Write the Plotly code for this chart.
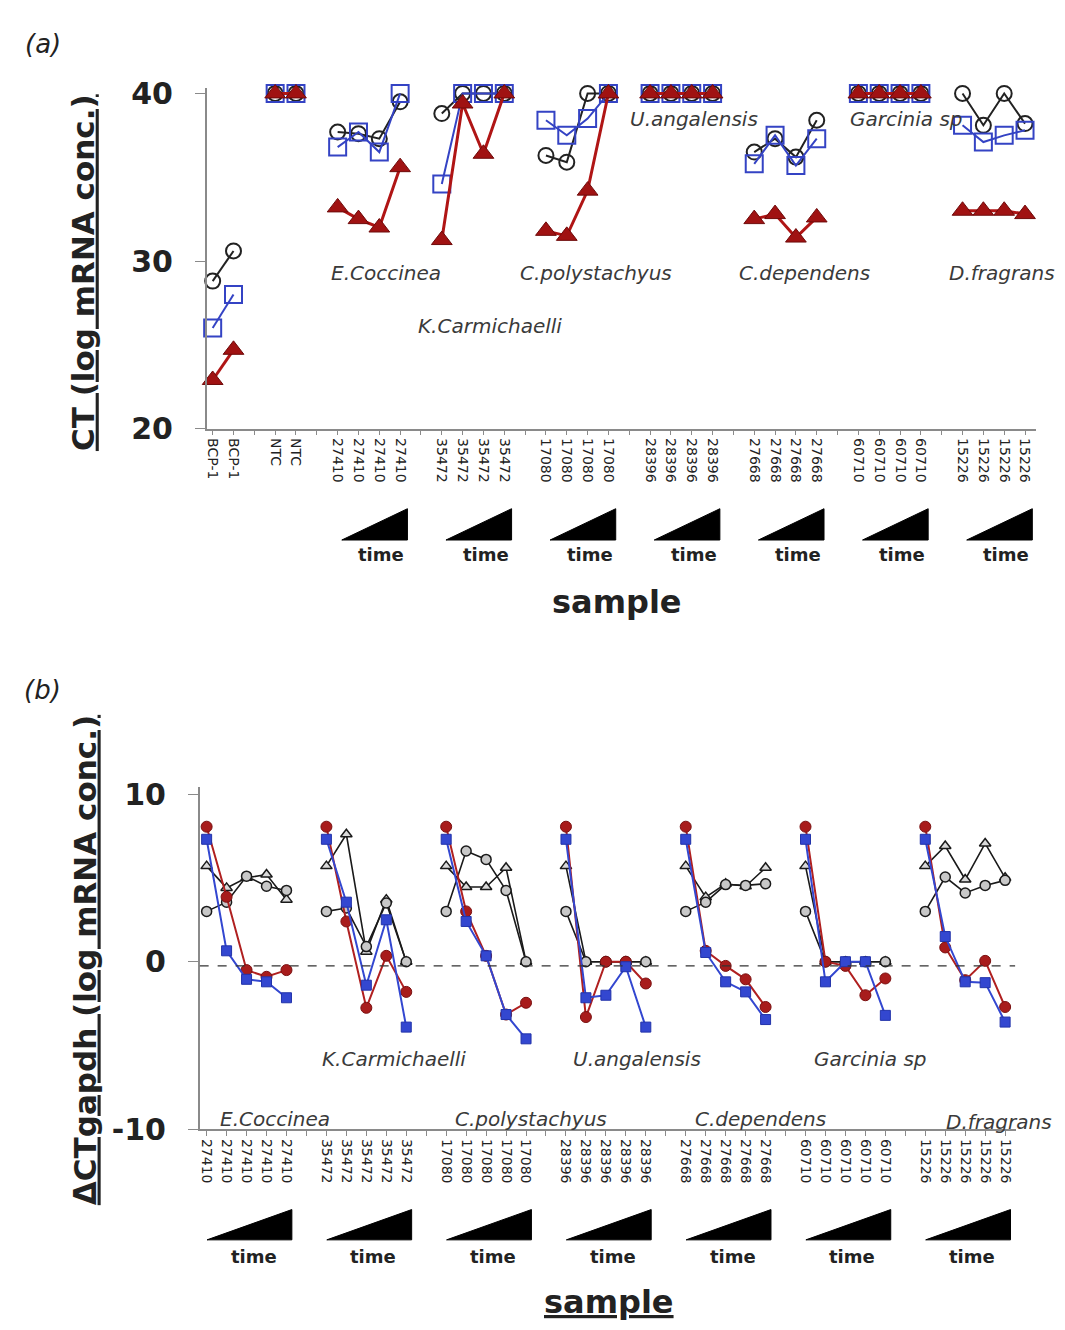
import plotly.graph_objects as go

# ---------------- data: panel (a) ----------------
top_groups = ["BCP-1", "NTC", "27410", "35472", "17080", "28396", "27668", "60710", "15226"]
top_counts = [2, 2, 4, 4, 4, 4, 4, 4, 4]

top_circles = [
    [28.8, 30.6],
    [40, 40],
    [37.7, 37.6, 37.3, 39.5],
    [38.8, 40, 40, 40],
    [36.3, 35.9, 40, 40],
    [40, 40, 40, 40],
    [36.5, 37.3, 36.2, 38.4],
    [40, 40, 40, 40],
    [40, 38.1, 40, 38.2],
]
top_squares = [
    [26.0, 28.0],
    [40, 40],
    [36.8, 37.7, 36.5, 40.0],
    [34.6, 40, 40, 40],
    [38.4, 37.5, 38.5, 40],
    [40, 40, 40, 40],
    [35.8, 37.5, 35.7, 37.3],
    [40, 40, 40, 40],
    [38.1, 37.1, 37.5, 37.8],
]
top_triangles = [
    [22.9, 24.7],
    [40, 40],
    [33.2, 32.5, 32.0, 35.6],
    [31.25, 39.4, 36.4, 40],
    [31.8, 31.5, 34.2, 40],
    [40, 40, 40, 40],
    [32.5, 32.8, 31.4, 32.6],
    [40, 40, 40, 40],
    [33.0, 33.0, 33.0, 32.8],
]
top_yticks = [20, 30, 40]
top_yticklabels = ["20", "30", "40"]

# ---------------- data: panel (b) ----------------
bot_groups = ["27410", "35472", "17080", "28396", "27668", "60710", "15226"]
bot_red = [
    [8.05, 3.87, -0.5, -0.9, -0.5],
    [8.05, 2.4, -2.75, 0.35, -1.8],
    [8.05, 3.0, 0.35, -3.15, -2.45],
    [8.05, -3.3, 0, 0, -1.3],
    [8.05, 0.65, -0.25, -1.05, -2.7],
    [8.05, 0, -0.25, -2.0, -1.0],
    [8.05, 0.85, -1.1, 0.05, -2.7],
]
bot_blue = [
    [7.3, 0.65, -1.05, -1.2, -2.15],
    [7.3, 3.55, -1.4, 2.5, -3.9],
    [7.3, 2.4, 0.35, -3.15, -4.6],
    [7.3, -2.15, -2.0, -0.3, -3.9],
    [7.3, 0.55, -1.2, -1.8, -3.45],
    [7.3, -1.2, 0, 0, -3.2],
    [7.3, 1.5, -1.2, -1.25, -3.6],
]
bot_tri = [
    [5.7, 4.4, 5.0, 5.2, 3.7],
    [5.7, 7.6, 0.6, 3.7, 0.0],
    [5.7, 4.45, 4.45, 5.6, 0],
    [5.7, 0, 0, 0, 0],
    [5.7, 3.85, 4.65, 4.5, 5.6],
    [5.7, 0, 0, 0, 0],
    [5.7, 6.9, 4.9, 7.05, 5.0],
]
bot_circ = [
    [3.0, 3.55, 5.1, 4.5, 4.25],
    [3.0, 3.2, 0.9, 3.5, 0.0],
    [3.0, 6.6, 6.1, 4.25, 0],
    [3.0, 0, 0, 0, 0],
    [3.0, 3.55, 4.6, 4.55, 4.65],
    [3.0, 0, 0, 0, 0],
    [3.0, 5.05, 4.1, 4.55, 4.85],
]
bot_yticks = [-10, 0, 10]
bot_yticklabels = ["-10", "0", "10"]

top_species = ["U.angalensis", "Garcinia sp", "E.Coccinea", "C.polystachyus",
               "C.dependens", "D.fragrans", "K.Carmichaelli"]
bot_species = ["K.Carmichaelli", "U.angalensis", "Garcinia sp", "E.Coccinea",
               "C.polystachyus", "C.dependens", "D.fragrans"]

# ---------------- build slot layout ----------------
W, H = 1065, 1330
FONT = "DejaVu Sans"


def build(groups, counts, series_list, gap=1):
    xs, labels, starts = [], [], []
    ys = [[] for _ in series_list]
    slot = 0
    for gi, (g, n) in enumerate(zip(groups, counts)):
        starts.append(slot)
        for i in range(n):
            xs.append(slot)
            labels.append(g)
            for si, s in enumerate(series_list):
                ys[si].append(s[gi][i])
            slot += 1
        if gi < len(groups) - 1:
            for _ in range(gap):
                xs.append(slot)
                labels.append("")
                for si in range(len(series_list)):
                    ys[si].append(None)
                slot += 1
    return xs, labels, ys, starts


tx, tlabels, (tc, tsq, ttr), tstarts = build(
    top_groups, top_counts, [top_circles, top_squares, top_triangles])
bx, blabels, (bred, bblue, btri, bcirc), bstarts = build(
    bot_groups, [5] * len(bot_groups), [bot_red, bot_blue, bot_tri, bot_circ])

fig = go.Figure()

# panel (a)
fig.add_trace(go.Scatter(x=tx, y=tc, mode="lines+markers", xaxis="x", yaxis="y",
                         line=dict(color="#222222", width=2),
                         marker=dict(symbol="circle-open", size=15, color="#222222",
                                     line=dict(width=2)), cliponaxis=False))
fig.add_trace(go.Scatter(x=tx, y=tsq, mode="lines+markers", xaxis="x", yaxis="y",
                         line=dict(color="#3443c4", width=2),
                         marker=dict(symbol="square-open", size=17, color="#3443c4",
                                     line=dict(width=2)), cliponaxis=False))
fig.add_trace(go.Scatter(x=tx, y=ttr, mode="lines+markers", xaxis="x", yaxis="y",
                         line=dict(color="#b01515", width=3),
                         marker=dict(symbol="triangle-up", size=18, color="#a01212",
                                     line=dict(color="#6e0a0a", width=1)), cliponaxis=False))

# panel (b)
fig.add_trace(go.Scatter(x=bx, y=btri, mode="lines+markers", xaxis="x2", yaxis="y2",
                         line=dict(color="#1a1a1a", width=1.6),
                         marker=dict(symbol="triangle-up", size=10, color="#d9d9d9",
                                     line=dict(color="#1a1a1a", width=1.5)), cliponaxis=False))
fig.add_trace(go.Scatter(x=bx, y=bcirc, mode="lines+markers", xaxis="x2", yaxis="y2",
                         line=dict(color="#1a1a1a", width=1.6),
                         marker=dict(symbol="circle", size=10, color="#c8c8c8",
                                     line=dict(color="#1a1a1a", width=1.5)), cliponaxis=False))
fig.add_trace(go.Scatter(x=bx, y=bred, mode="lines+markers", xaxis="x2", yaxis="y2",
                         line=dict(color="#b02020", width=2),
                         marker=dict(symbol="circle", size=11, color="#a81c1c",
                                     line=dict(color="#7a1010", width=1)), cliponaxis=False))
fig.add_trace(go.Scatter(x=bx, y=bblue, mode="lines+markers", xaxis="x2", yaxis="y2",
                         line=dict(color="#3347d0", width=2),
                         marker=dict(symbol="square", size=10, color="#3347d0",
                                     line=dict(color="#2233aa", width=1)), cliponaxis=False))


def py(p):
    return 1 - p / H


def px(p):
    return p / W


axis_common = dict(showgrid=False, zeroline=False, showline=True, linecolor="#8a8a8a",
                   linewidth=1.5, ticks="outside", tickcolor="#8a8a8a", mirror=False)

fig.update_layout(
    width=W, height=H, margin=dict(l=0, r=0, t=0, b=0),
    paper_bgcolor="white", plot_bgcolor="white", showlegend=False,
    xaxis=dict(domain=[px(197), px(1028)], range=[-0.29, 39.53], anchor="y",
               tickmode="array", tickvals=tx, ticktext=tlabels, tickangle=90,
               ticklen=5, tickfont=dict(family=FONT, size=14, color="#222222"),
               **axis_common),
    yaxis=dict(domain=[py(418), py(70)], range=[20, 40.3], anchor="x",
               tickmode="array", tickvals=top_yticks, ticktext=top_yticklabels,
               ticklen=10, ticklabelstandoff=16,
               tickfont=dict(family=FONT, size=30, color="#222222", weight="bold"),
               **axis_common),
    xaxis2=dict(domain=[px(190), px(1008)], range=[-0.35, 40.55], anchor="y2",
                tickmode="array", tickvals=bx, ticktext=blabels, tickangle=90,
                ticklen=5, tickfont=dict(family=FONT, size=14, color="#222222"),
                **axis_common),
    yaxis2=dict(domain=[py(1135), py(785)], range=[-10, 10.4], anchor="x2",
                tickmode="array", tickvals=bot_yticks, ticktext=bot_yticklabels,
                ticklen=10, ticklabelstandoff=16,
                tickfont=dict(family=FONT, size=30, color="#222222", weight="bold"),
                **axis_common),
)

shapes = []
annotations = []


def ann(x, y, text, size, xref="paper", yref="paper", angle=0, color="#222222"):
    return dict(x=x, y=y, xref=xref, yref=yref, text=text, showarrow=False,
                xanchor="center", yanchor="middle", textangle=angle,
                font=dict(family=FONT, size=size, color=color))


# dashed zero line in panel (b)
shapes.append(dict(type="line", xref="x2", yref="y2", x0=-0.35, x1=40.5, y0=-0.25, y1=-0.25,
                   line=dict(color="#333333", width=1.2, dash="dash")))

# time wedges
for s in tstarts[2:]:
    x0, x1 = s + 0.2, s + 3.35
    shapes.append(dict(type="path", xref="x", yref="paper",
                       path=f"M {x0},{py(532)} L {x1},{py(532)} L {x1},{py(500)} Z",
                       fillcolor="black", line=dict(color="black", width=1)))
    annotations.append(ann(s + 2.1, py(547), "<b>time</b>", 18, xref="x"))
for s in bstarts:
    x0, x1 = s + 0.02, s + 4.27
    shapes.append(dict(type="path", xref="x2", yref="paper",
                       path=f"M {x0},{py(1248)} L {x1},{py(1248)} L {x1},{py(1217)} Z",
                       fillcolor="black", line=dict(color="black", width=1)))
    annotations.append(ann(s + 2.35, py(1265), "<b>time</b>", 18, xref="x2"))

# species labels
top_pos = [(23.1, 38.5), (33.3, 38.5), (8.34, 29.3), (18.4, 29.3), (28.4, 29.3), (37.9, 29.3),
           (13.3, 26.1)]
for name, (xx, yy) in zip(top_species, top_pos):
    annotations.append(ann(xx, yy, f"<i>{name}</i>", 20, xref="x", yref="y", color="#3a3a3a"))
bot_pos = [(9.4, -5.83), (21.55, -5.83), (33.25, -5.83), (3.4, -9.39), (16.25, -9.39),
           (27.75, -9.39), (39.7, -9.56)]
for name, (xx, yy) in zip(bot_species, bot_pos):
    annotations.append(ann(xx, yy, f"<i>{name}</i>", 20, xref="x2", yref="y2", color="#3a3a3a"))

# titles
annotations += [
    ann(px(73), py(258), "<b><u>CT (log mRNA conc.)</u></b>", 31, angle=-90),
    ann(px(75), py(962), "<b><u>ΔCTgapdh (log mRNA conc.)</u></b>", 31, angle=-90),
    ann(px(608), py(595), "<b>sample</b>", 32),
    ann(px(600), py(1312), "<b><u>sample</u></b>", 32),
    ann(px(33), py(25), "<i>(a)</i>", 26),
    ann(px(33), py(685), "<i>(b)</i>", 26),
]

fig.update_layout(shapes=shapes, annotations=annotations)
fig.write_html("out.html")
